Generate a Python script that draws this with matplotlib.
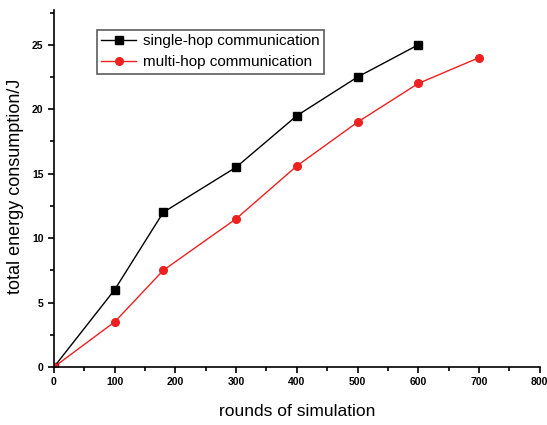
import matplotlib
matplotlib.use('Agg')
import matplotlib.pyplot as plt
from matplotlib.ticker import MultipleLocator

# 数据
single_x = [0, 100, 180, 300, 400, 500, 600]
single_y = [0, 6, 12, 15.5, 19.5, 22.5, 25]
multi_x = [0, 100, 180, 300, 400, 500, 600, 700]
multi_y = [0, 3.5, 7.5, 11.5, 15.6, 19, 22, 24]

plt.rcParams['font.family'] = ['Liberation Sans', 'DejaVu Sans']

fig = plt.figure(figsize=(5.47, 4.25), dpi=100)
ax = fig.add_axes([0.0987, 0.1365, 0.888, 0.84])

ax.plot(single_x, single_y, color='black', lw=1, marker='s', ms=5.5,
        label='single-hop communication')
ax.plot(multi_x, multi_y, color='#ee2020', lw=1, marker='o', ms=5.5,
        label='multi-hop communication')

ax.set_xlim(0, 800)
ax.set_ylim(0, 27.7)
ax.xaxis.set_major_locator(MultipleLocator(100))
ax.xaxis.set_minor_locator(MultipleLocator(50))
ax.yaxis.set_major_locator(MultipleLocator(5))
ax.yaxis.set_minor_locator(MultipleLocator(2.5))
ax.spines['top'].set_visible(False)
ax.spines['right'].set_visible(False)
ax.spines['left'].set_linewidth(1.2)
ax.spines['bottom'].set_linewidth(1.2)
ax.tick_params(which='both', direction='out', labelsize=7.5, width=1.2)
ax.tick_params(which='major', length=4)
ax.tick_params(which='minor', length=3)
for lbl in ax.get_xticklabels() + ax.get_yticklabels():
    lbl.set_fontweight('bold')

ax.set_xlabel('rounds of simulation', fontsize=12.5, labelpad=12)
ax.set_ylabel('total energy consumption/J', fontsize=13)
ax.yaxis.set_label_coords(-0.062, 0.505)

leg = ax.legend(loc='upper left', bbox_to_anchor=(0.088, 0.945), fontsize=11,
                frameon=True, fancybox=False, edgecolor='#333333',
                borderpad=0.3, handlelength=2.3, labelspacing=0.45,
                handletextpad=0.4, borderaxespad=0)
leg.get_frame().set_linewidth(1.2)

plt.savefig('out.png')
